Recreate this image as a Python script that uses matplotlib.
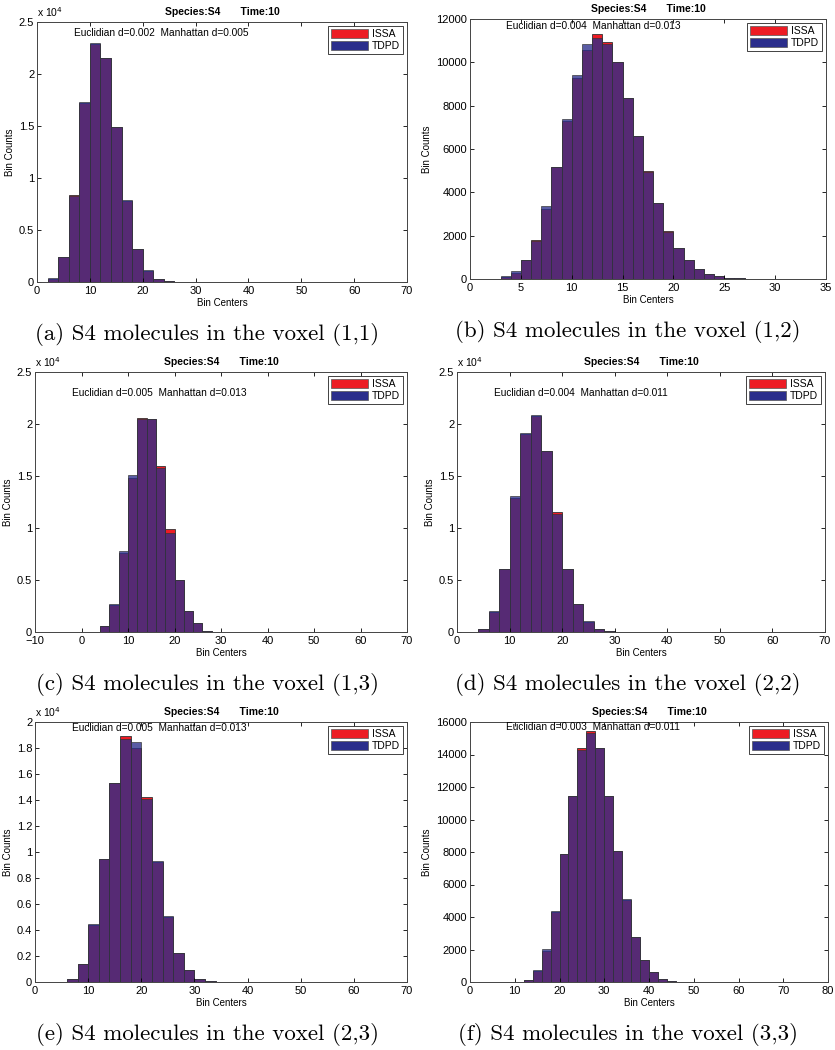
import matplotlib
matplotlib.use("Agg")
import matplotlib.pyplot as plt
from matplotlib.patches import Patch
from matplotlib.ticker import FuncFormatter

plt.rcParams['font.family'] = ['Liberation Sans', 'DejaVu Sans']

# bin centers / counts
a_centers = [3, 5, 7, 9, 11, 13, 15, 17, 19, 21, 23, 25]
a_issa = [300, 2400, 8400, 17200, 22900, 21500, 14900, 7800, 3200, 1100, 300, 50]
a_tdpd = [350, 2400, 8250, 17300, 22950, 21550, 14900, 7850, 3200, 1150, 300, 60]

b_centers = [3.5, 4.5, 5.5, 6.5, 7.5, 8.5, 9.5, 10.5, 11.5, 12.5, 13.5, 14.5,
             15.5, 16.5, 17.5, 18.5, 19.5, 20.5, 21.5, 22.5, 23.5, 24.5, 25.5, 26.5]
b_issa = [100, 300, 860, 1800, 3250, 5150, 7300, 9300, 10560, 11320, 10940, 10030,
          8370, 6600, 4980, 3500, 2200, 1430, 880, 470, 240, 140, 60, 30]
b_tdpd = [130, 370, 860, 1760, 3380, 5190, 7380, 9400, 10860, 11120, 10830, 10030,
          8370, 6600, 4960, 3500, 2150, 1430, 880, 450, 240, 140, 60, 30]

c_centers = [5, 7, 9, 11, 13, 15, 17, 19, 21, 23, 25, 27]
c_issa = [540, 2600, 7600, 14800, 20600, 20500, 16000, 9900, 5000, 2000, 870, 100]
c_tdpd = [540, 2700, 7800, 15100, 20500, 20500, 15800, 9550, 5000, 2000, 870, 100]

d_centers = [5, 7, 9, 11, 13, 15, 17, 19, 21, 23, 25, 27, 29]
d_issa = [300, 1900, 6100, 12900, 19000, 20800, 17400, 11550, 6100, 2700, 1000, 300, 50]
d_tdpd = [320, 2000, 6100, 13100, 19100, 20900, 17400, 11300, 6050, 2700, 1050, 300, 50]

e_centers = [7, 9, 11, 13, 15, 17, 19, 21, 23, 25, 27, 29, 31, 33]
e_issa = [230, 1400, 4350, 9450, 15300, 18900, 18000, 14250, 9250, 5000, 2250, 900, 250, 50]
e_tdpd = [230, 1350, 4500, 9450, 15300, 18700, 18450, 14050, 9300, 5100, 2250, 900, 250, 50]

f_centers = [11, 13, 15, 17, 19, 21, 23, 25, 27, 29, 31, 33, 35, 37, 39, 41, 43, 45, 47]
f_issa = [30, 150, 650, 1900, 4300, 7860, 11440, 14410, 15460, 14390, 11440, 8060,
          5050, 2800, 1380, 600, 190, 40, 10]
f_tdpd = [30, 150, 720, 2040, 4370, 7860, 11440, 14290, 15320, 14390, 11440, 8060,
          5080, 2760, 1380, 620, 190, 40, 10]

dists = ['Euclidian d=0.002  Manhattan d=0.005',
         'Euclidian d=0.004  Manhattan d=0.013',
         'Euclidian d=0.005  Manhattan d=0.013',
         'Euclidian d=0.004  Manhattan d=0.011',
         'Euclidian d=0.005  Manhattan d=0.013',
         'Euclidian d=0.003  Manhattan d=0.011']
captions = ['(a) S4 molecules in the voxel (1,1)',
            '(b) S4 molecules in the voxel (1,2)',
            '(c) S4 molecules in the voxel (1,3)',
            '(d) S4 molecules in the voxel (2,2)',
            '(e) S4 molecules in the voxel (2,3)',
            '(f) S4 molecules in the voxel (3,3)']

RED = '#ED1C24'
NAVY = '#2B2E8C'
W, H = 835, 1050

# panel boxes in pixels: left, top, right, bottom
boxes = [(37, 22, 407, 282), (470, 19, 826, 279),
         (35, 372, 407, 632), (457, 372, 825, 632),
         (35, 722, 407, 982), (470, 722, 828, 982)]
panels = [
    (a_centers, a_issa, a_tdpd, 2, (0, 70), (0, 25000), 5000, True, 0.958),
    (b_centers, b_issa, b_tdpd, 1, (0, 35), (0, 12000), 2000, False, 0.972),
    (c_centers, c_issa, c_tdpd, 2, (-10, 70), (0, 25000), 5000, True, 0.92),
    (d_centers, d_issa, d_tdpd, 2, (0, 70), (0, 25000), 5000, True, 0.92),
    (e_centers, e_issa, e_tdpd, 2, (0, 70), (0, 20000), 2000, True, 0.977),
    (f_centers, f_issa, f_tdpd, 2, (0, 80), (0, 16000), 2000, False, 0.98),
]

fig = plt.figure(figsize=(W / 100, H / 100), dpi=100)

for i, (box, p) in enumerate(zip(boxes, panels)):
    l, t, r, b = box
    ax = fig.add_axes([l / W, 1 - b / H, (r - l) / W, (b - t) / H])
    centers, issa, tdpd, width, xlim, ylim, ystep, sci, ty = p

    ax.bar(centers, issa, width=width, color=RED, edgecolor='#333333', linewidth=0.6)
    ax.bar(centers, tdpd, width=width, color=NAVY, alpha=0.78,
           edgecolor='#333333', linewidth=0.6)

    ax.set_xlim(*xlim)
    ax.set_ylim(*ylim)
    ax.set_yticks(range(ylim[0], ylim[1] + 1, ystep))
    if sci:
        ax.yaxis.set_major_formatter(FuncFormatter(lambda v, pos: f'{v / 1e4:g}'))
        ax.text(0, 1.012, r'x 10$^4$', transform=ax.transAxes, fontsize=7.5,
                ha='left', va='bottom')

    ax.tick_params(direction='in', top=True, right=True, length=3, width=0.6,
                   labelsize=8, pad=2)
    ax.tick_params(axis='x', pad=3)
    for s in ax.spines.values():
        s.set_color('#444444')
        s.set_linewidth(0.7)

    ax.set_title('Species:S4       Time:10', fontsize=7.5, fontweight='bold', pad=5)
    ax.set_xlabel('Bin Centers', fontsize=7, labelpad=1)
    ax.set_ylabel('Bin Counts', fontsize=7, labelpad=3)
    ax.text(0.1, ty, dists[i], transform=ax.transAxes, fontsize=7.3,
            ha='left', va='center')

    handles = [Patch(facecolor=RED, edgecolor='#555555', linewidth=0.5),
               Patch(facecolor=NAVY, edgecolor='#555555', linewidth=0.5)]
    leg = ax.legend(handles, ['ISSA', 'TDPD'], loc='upper right', fontsize=7.5,
                    fancybox=False, framealpha=1, edgecolor='#222222',
                    handlelength=3.6, handleheight=0.9, handletextpad=0.3,
                    labelspacing=0.15, borderpad=0.3, borderaxespad=0.4)
    leg.get_frame().set_linewidth(0.6)

    cx = 207 if i % 2 == 0 else 628
    fig.text(cx / W, 1 - (b + 58) / H, captions[i], family='cmr10', fontsize=16.5,
             ha='center', va='baseline')

fig.savefig('out.png', dpi=100)
